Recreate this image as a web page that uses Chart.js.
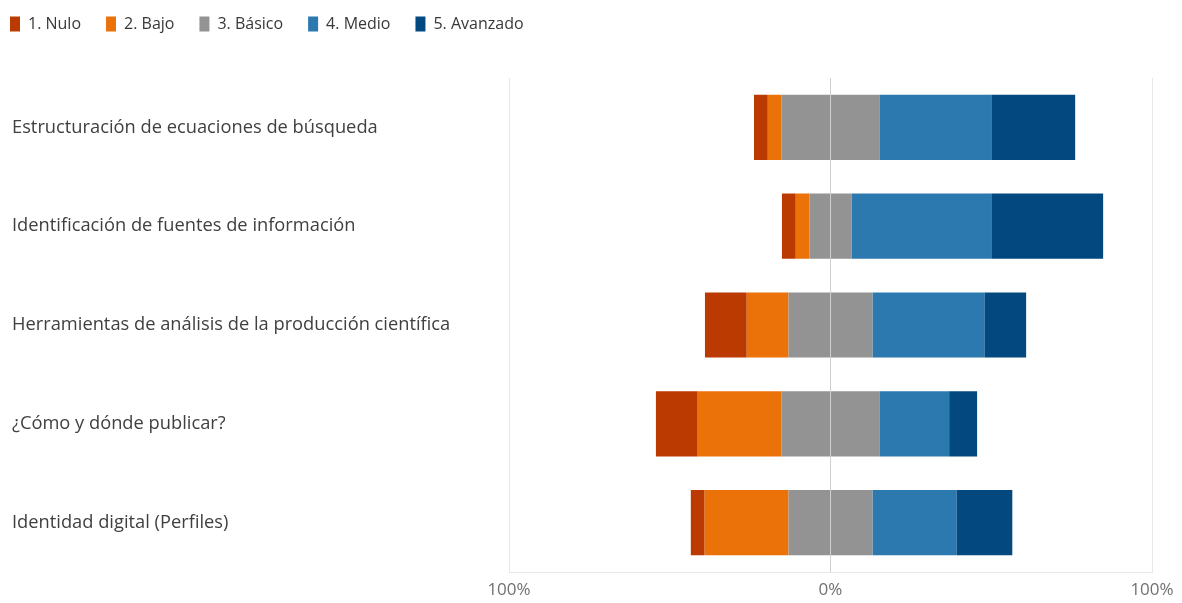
<!DOCTYPE html>
<html>
<head>
<meta charset="utf-8">
<script src="https://cdn.jsdelivr.net/npm/chart.js@4"></script>
<style>
html,body{margin:0;padding:0;background:#fff;}
#wrap{width:1182px;height:603px;}
</style>
</head>
<body>
<div id="wrap"><canvas id="c" width="1182" height="603"></canvas></div>
<script>
const categories = [
  "Estructuración de ecuaciones de búsqueda",
  "Identificación de fuentes de información",
  "Herramientas de análisis de la producción científica",
  "¿Cómo y dónde publicar?",
  "Identidad digital (Perfiles)"
];
const levelLabels = ["1. Nulo", "2. Bajo", "3. Básico", "4. Medio", "5. Avanzado"];
const nulo     = [4.3, 4.3, 13.0, 13.0, 4.3];
const bajo     = [4.3, 4.3, 13.0, 26.1, 26.1];
const basico   = [30.4, 13.0, 26.1, 30.4, 26.1];
const medio    = [34.8, 43.5, 34.8, 21.7, 26.1];
const avanzado = [26.1, 34.8, 13.0, 8.7, 17.4];
const xTicks = [-100, 0, 100];
const colors = ["#BB3A02", "#EB7109", "#939393", "#2C79B0", "#03487F"];

const FONT = "'Open Sans', sans-serif";
const neg = a => a.map(v => -v);
const half = a => a.map(v => v / 2);

const datasets = [
  { label: levelLabels[2], data: neg(half(basico)), backgroundColor: colors[2], hideInLegend: true },
  { label: levelLabels[1], data: neg(bajo), backgroundColor: colors[1] },
  { label: levelLabels[0], data: neg(nulo), backgroundColor: colors[0] },
  { label: levelLabels[2], data: half(basico), backgroundColor: colors[2] },
  { label: levelLabels[3], data: medio, backgroundColor: colors[3] },
  { label: levelLabels[4], data: avanzado, backgroundColor: colors[4] }
];

const legendTweak = {
  id: 'legendTweak',
  beforeLayout(chart) {
    const lg = chart.legend;
    if (lg && !lg._wrapped) {
      const orig = lg.fit;
      lg.fit = function () { orig.call(this); this.height = 78; };
      lg._wrapped = true;
    }
  },
  beforeDraw(chart) {
    const lg = chart.legend;
    if (lg) { lg.left = -15; lg.top = -9; }
  }
};

new Chart(document.getElementById('c'), {
  type: 'bar',
  data: { labels: categories, datasets },
  options: {
    indexAxis: 'y',
    responsive: false,
    animation: false,
    layout: { padding: { left: 12, right: 30, top: 0, bottom: 4 } },
    datasets: { bar: { categoryPercentage: 1, barPercentage: 0.66, borderWidth: 0 } },
    scales: {
      x: {
        stacked: true,
        min: -100, max: 100,
        afterBuildTicks(scale) { scale.ticks = xTicks.map(v => ({ value: v })); },
        afterFit(scale) { scale.height = 27; },
        ticks: {
          callback: v => Math.abs(v) + '%',
          font: { family: FONT, size: 17 },
          color: '#707070',
          padding: 8
        },
        grid: {
          drawTicks: false,
          z: 1,
          color: ctx => (ctx.tick && ctx.tick.value === 0) ? '#cfcfcf' : '#e8e8e8'
        },
        border: { display: true, color: '#e8e8e8', z: 2 }
      },
      y: {
        stacked: true,
        grid: { display: false },
        border: { display: false },
        ticks: {
          crossAlign: 'far',
          font: { family: FONT, size: 18.3 },
          color: '#404040'
        },
        afterFit(scale) { scale.width = 497; }
      }
    },
    plugins: {
      tooltip: { enabled: false },
      legend: {
        position: 'top',
        align: 'start',
        labels: {
          boxWidth: 10,
          boxHeight: 15,
          padding: 25,
          font: { family: FONT, size: 16 },
          color: '#383838',
          filter: (item, data) => !data.datasets[item.datasetIndex].hideInLegend,
          sort: (a, b) => a.text.localeCompare(b.text)
        }
      }
    }
  },
  plugins: [legendTweak]
});
</script>
</body>
</html>
